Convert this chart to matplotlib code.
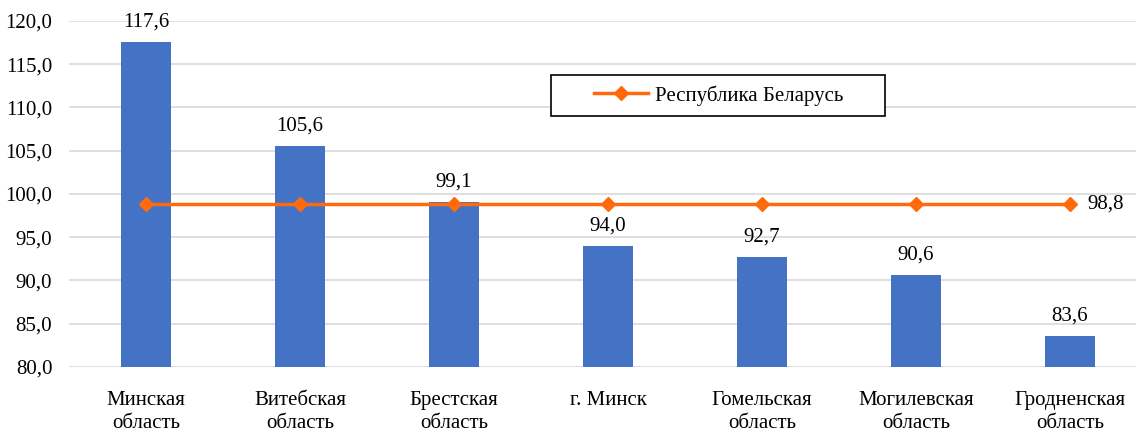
import matplotlib.pyplot as plt
from matplotlib.patches import Rectangle
import numpy as np

plt.rcParams['font.family'] = ['Liberation Serif', 'DejaVu Serif']

regions = ["Минская\nобласть", "Витебская\nобласть", "Брестская\nобласть", "г. Минск",
           "Гомельская\nобласть", "Могилевская\nобласть", "Гродненская\nобласть"]
region_values = [117.6, 105.6, 99.1, 94.0, 92.7, 90.6, 83.6]
republic_values = [98.8, 98.8, 98.8, 98.8, 98.8, 98.8, 98.8]
yticks = [80, 85, 90, 95, 100, 105, 110, 115, 120]

def fmt(v):
    return ("%.1f" % v).replace(".", ",")

fs = 15
fig = plt.figure(figsize=(11.36, 4.32), dpi=100)
ax = fig.add_axes([0.0607, 0.1505, 0.949, 0.8009])

x = np.arange(len(regions))
ax.bar(x, [v - 80 for v in region_values], bottom=80, width=0.32, color="#4472C4", zorder=2)
for xi, v in zip(x, region_values):
    ax.text(xi, v + 1.2, fmt(v), ha="center", va="bottom", fontsize=fs)

ax.plot(x, republic_values, color="#FF6A0D", linewidth=2.5, marker="D", markersize=7,
        label="Республика Беларусь", zorder=3)
ax.text(x[-1] + 0.11, republic_values[-1], fmt(republic_values[-1]), ha="left", va="center", fontsize=fs)

ax.set_xlim(-0.5, len(regions) - 0.5)
ax.set_ylim(80, 120)
ax.set_yticks(yticks)
ax.set_yticklabels([fmt(v) for v in yticks], fontsize=fs)
ax.set_xticks(x)
ax.set_xticklabels(regions, fontsize=fs, linespacing=1.35)
ax.tick_params(axis="both", length=0)
ax.tick_params(axis="x", pad=17)
ax.tick_params(axis="y", pad=12)
ax.grid(axis="y", color="#D9D9D9", linewidth=1.2, zorder=0)
for s in ax.spines.values():
    s.set_visible(False)

# legend box drawn separately (wider padding like the original)
ax.add_patch(Rectangle((0.447, 0.725), 0.310, 0.119, transform=ax.transAxes, fill=True,
                       facecolor="white", edgecolor="black", linewidth=1.2, zorder=4, clip_on=False))
leg = ax.legend(loc="center left", bbox_to_anchor=(0.487, 0.785), fontsize=fs, frameon=False,
                borderpad=0, borderaxespad=0, handlelength=2.6, handletextpad=0.35)
leg.set_zorder(5)

fig.savefig("out.png", dpi=100)
